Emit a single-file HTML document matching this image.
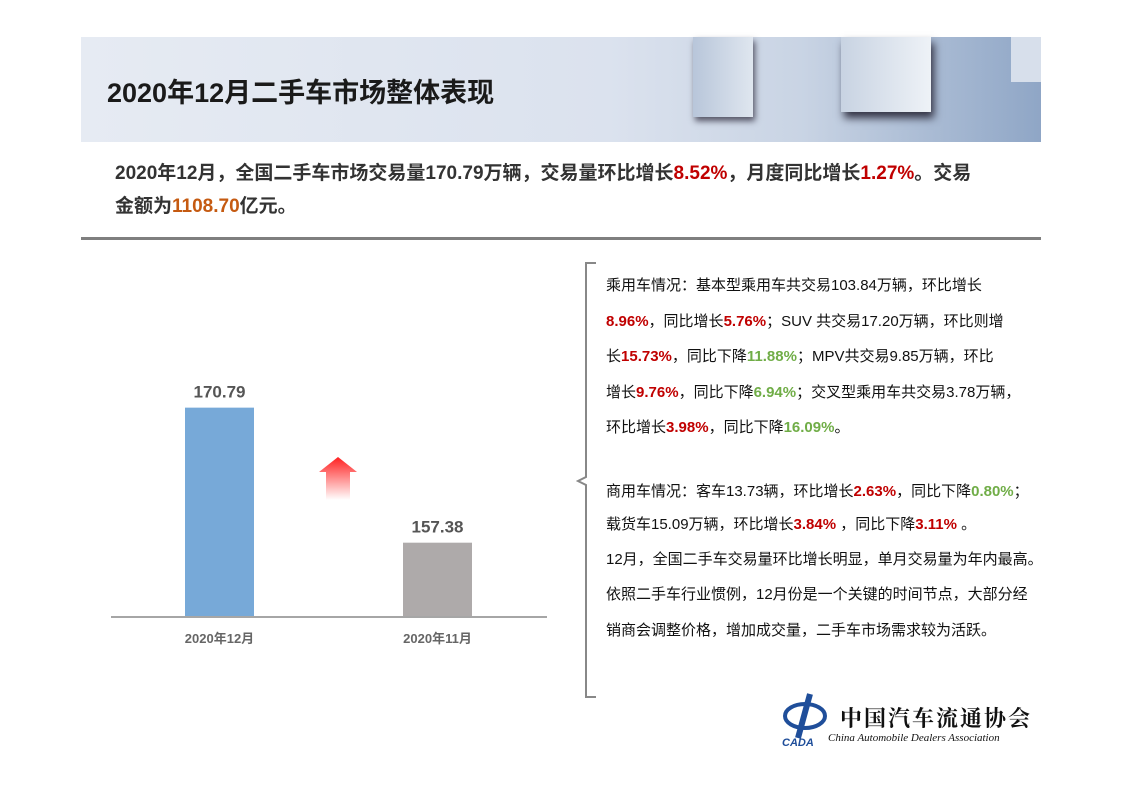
<!DOCTYPE html>
<html><head><meta charset="utf-8"><style>
body{margin:0;width:1122px;height:793px;background:#fff;font-family:"Liberation Sans","Noto Sans CJK SC",sans-serif;position:relative;overflow:hidden}
.banner{position:absolute;left:81px;top:37px;width:960px;height:105px;background:linear-gradient(90deg,#e6ebf3 0%,#dbe2ee 55%,#c9d4e4 75%,#8fa6c6 100%)}
.title{position:absolute;left:107px;top:71px;font-size:27px;font-weight:bold;color:#1a1a1a;font-family:"Liberation Sans","Noto Sans CJK SC",sans-serif}
.sum{position:absolute;left:115px;top:157px;font-size:19px;font-weight:bold;color:#333;line-height:33px;width:900px}
.r{color:#c00000}.o{color:#c55a11}.g{color:#70ad47}
.rule{position:absolute;left:81px;top:237px;width:960px;height:3px;background:#7f7f7f}
.txt{position:absolute;left:606px;font-size:15px;color:#111;white-space:nowrap}
.txt b{font-weight:bold}
</style></head><body>
<div class="banner">
<div style="position:absolute;left:612px;top:0;width:60px;height:80px;background:linear-gradient(90deg,#b8c6da,#dfe6ef);box-shadow:2px 4px 6px #556"></div>
<div style="position:absolute;left:760px;top:0;width:90px;height:75px;background:linear-gradient(90deg,#c8d3e2,#eef2f7);box-shadow:3px 6px 8px #334"></div>
<div style="position:absolute;left:930px;top:0;width:30px;height:45px;background:#d7dfeb"></div>
</div>
<div class="title">2020年12月二手车市场整体表现</div>
<div class="sum">2020年12月，全国二手车市场交易量170.79万辆，交易量环比增长<span class="r">8.52%</span>，月度同比增长<span class="r">1.27%</span>。交易<br>金额为<span class="o">1108.70</span>亿元。</div>
<div class="rule"></div>

<svg id="chart" width="1122" height="793" style="position:absolute;left:0;top:0">
<defs><linearGradient id="ag" x1="0" y1="0" x2="0" y2="1"><stop offset="0" stop-color="#ff2020"/><stop offset="1" stop-color="#ff2020" stop-opacity="0"/></linearGradient></defs>
<polygon points="338,457 357,472 350,472 350,500 326,500 326,472 319,472" fill="url(#ag)"/>
</svg>

<svg width="30" height="440" style="position:absolute;left:576px;top:260px"><path d="M20,3 L10,3 L10,217 L2,221 L10,225 L10,437 L20,437" fill="none" stroke="#888" stroke-width="2"/></svg>

<div class="txt" style="top:274px">乘用车情况：基本型乘用车共交易103.84万辆，环比增长</div>
<div class="txt" style="top:310px"><b class="r">8.96%</b>，同比增长<b class="r">5.76%</b>；SUV 共交易17.20万辆，环比则增</div>
<div class="txt" style="top:345px">长<b class="r">15.73%</b>，同比下降<b class="g">11.88%</b>；MPV共交易9.85万辆，环比</div>
<div class="txt" style="top:381px">增长<b class="r">9.76%</b>，同比下降<b class="g">6.94%</b>；交叉型乘用车共交易3.78万辆，</div>
<div class="txt" style="top:416px">环比增长<b class="r">3.98%</b>，同比下降<b class="g">16.09%</b>。</div>
<div class="txt" style="top:480px">商用车情况：客车13.73辆，环比增长<b class="r">2.63%</b>，同比下降<b class="g">0.80%</b>；</div>
<div class="txt" style="top:513px">载货车15.09万辆，环比增长<b class="r">3.84%</b> ，同比下降<b class="r">3.11%</b> 。</div>
<div class="txt" style="top:548px">12月，全国二手车交易量环比增长明显，单月交易量为年内最高。</div>
<div class="txt" style="top:583px">依照二手车行业惯例，12月份是一个关键的时间节点，大部分经</div>
<div class="txt" style="top:619px">销商会调整价格，增加成交量，二手车市场需求较为活跃。</div>

<div style="position:absolute;left:780px;top:690px;width:255px;height:60px">
<svg width="50" height="58" style="position:absolute;left:0;top:0"><ellipse cx="25" cy="26" rx="20" ry="12" fill="none" stroke="#1f4e9a" stroke-width="4"/><path d="M30,4 L18,48" stroke="#1f4e9a" stroke-width="6"/><text x="2" y="56" font-size="11" font-weight="bold" font-style="italic" fill="#1f4e9a" font-family="Liberation Sans">CADA</text></svg>
<div style="position:absolute;left:60px;top:12px;font-size:22px;font-weight:bold;letter-spacing:2px;color:#111;font-family:'Noto Serif CJK SC',serif">中国汽车流通协会</div>
<div style="position:absolute;left:48px;top:42px;font-size:11px;font-style:italic;color:#111;font-family:'Liberation Serif',serif">China Automobile Dealers Association</div>
</div>

<script>
const categories=["2020年12月","2020年11月"];
const values=[170.79,157.38];
const labels=["170.79","157.38"];
const colors=["#77a9d8","#aeaaaa"];
const svg=document.getElementById('chart');
const NS='http://www.w3.org/2000/svg';
const yMin=150, pxPerUnit=10.07, baseY=617;
const y=v=>baseY-(v-yMin)*pxPerUnit;
const xc=i=>219.5+i*218;
const bw=69;
values.forEach((v,i)=>{
 const r=document.createElementNS(NS,'rect');
 r.setAttribute('x',xc(i)-bw/2);r.setAttribute('y',y(v));r.setAttribute('width',bw);r.setAttribute('height',baseY-y(v));r.setAttribute('fill',colors[i]);
 
 
 svg.appendChild(r);
 const t=document.createElementNS(NS,'text');
 t.setAttribute('x',xc(i));t.setAttribute('y',y(v)-10);t.setAttribute('text-anchor','middle');t.setAttribute('font-size','17');t.setAttribute('font-weight','bold');t.setAttribute('fill','#555');t.setAttribute('font-family','Liberation Sans Narrow, Liberation Sans, sans-serif');
 t.textContent=labels[i];
 
 
 svg.appendChild(t);
 const c=document.createElementNS(NS,'text');
 c.setAttribute('x',xc(i));c.setAttribute('y',643);c.setAttribute('text-anchor','middle');c.setAttribute('font-size','13');c.setAttribute('font-weight','bold');c.setAttribute('fill','#666');c.setAttribute('font-family','Liberation Sans, Noto Sans CJK SC, sans-serif');
 c.textContent=categories[i];
 
 
 svg.appendChild(c);
});
const ax=document.createElementNS(NS,'line');
ax.setAttribute('x1',111);ax.setAttribute('x2',547);ax.setAttribute('y1',baseY);ax.setAttribute('y2',baseY);ax.setAttribute('stroke','#a6a6a6');ax.setAttribute('stroke-width','2');


svg.appendChild(ax);
</script>
</body></html>
